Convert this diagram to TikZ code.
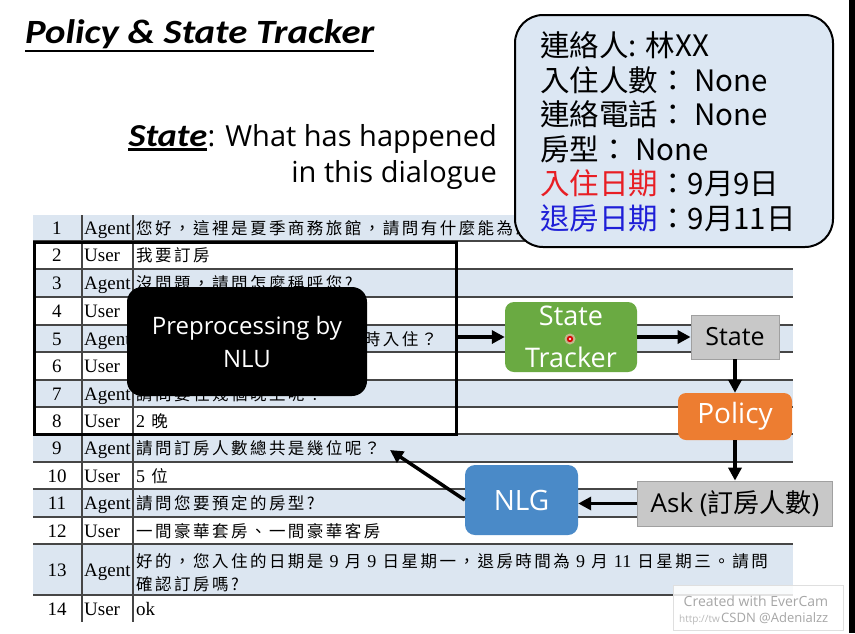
\documentclass[tikz,border=0pt]{standalone}
\usepackage{fontspec}
\setmainfont{Liberation Serif}
\newfontfamily\cjk{Noto Sans CJK TC}
\newfontfamily\cjktbl[LetterSpace=15]{Noto Sans CJK TC}
\newfontfamily\osans{Open Sans}
\newfontfamily\carl[FakeStretch=1.14]{Carlito}
\usetikzlibrary{arrows.meta}
\definecolor{rowshade}{RGB}{220,230,241}
\definecolor{rowline}{RGB}{70,70,70}
\definecolor{infofill}{RGB}{220,231,243}
\definecolor{trkgreen}{RGB}{106,170,66}
\definecolor{polorange}{RGB}{237,125,49}
\definecolor{nlgblue}{RGB}{74,138,200}
\definecolor{stgray}{RGB}{200,200,200}
\definecolor{stborder}{RGB}{160,160,160}
\definecolor{infored}{RGB}{232,30,36}
\definecolor{infoblue}{RGB}{30,30,215}
\newcommand\lat[1]{{\rmfamily\fontsize{18}{20}\selectfont #1}}
\newcommand\dlgrow[6]{%
  \fill[#4] (33,#2) rectangle (793,#3);
  \node[numcell] (n#1) at (57,{(#2+#3)/2+6.5}) {#1};
  \node[rolecell] (r#1) at (84,{(#2+#3)/2+6.5}) {#5};
  \node[txtcell] (t#1) at (136,{(#2+#3)/2+6.5}) {#6};
}
\tikzset{
  numcell/.style={anchor=base, inner sep=0, font=\rmfamily\fontsize{19}{22}\selectfont},
  rolecell/.style={anchor=base west, inner sep=0, font=\rmfamily\fontsize{19}{22}\selectfont},
  txtcell/.style={anchor=base west, inner sep=0, font=\cjktbl\fontsize{16.5}{20}\selectfont},
  tline/.style={rowline, line width=1.1pt},
  arr/.style={line width=3.5pt, -{Triangle[length=13pt,width=13pt]}},
  flowbox/.style={inner sep=0, align=center, font=\osans\fontsize{27}{42}\selectfont},
  infoline/.style={anchor=base west, inner sep=0, font=\cjk\fontsize{29.5}{34}\selectfont},
}
\begin{document}
\begin{tikzpicture}[x=1pt,y=-1pt]
\useasboundingbox (0,0) rectangle (855,633);
\fill[white] (0,0) rectangle (855,633);
\fill[black] (849,0) rectangle (855,633);

% title
\node[anchor=base west, inner sep=0, font=\carl\bfseries\itshape\fontsize{34}{40}\selectfont] (title) at (25,43) {Policy \& State Tracker};
\draw[line width=2pt] ([yshift=-8pt]title.base west) -- ([yshift=-8pt]title.base east);

\node[anchor=base east, inner sep=0, font=\osans\fontsize{29}{34}\selectfont] (whatl) at (497,146.5) {: What has happened};
\node[anchor=base east, inner sep=0, font=\carl\bfseries\itshape\fontsize{32}{38}\selectfont] (statew) at (whatl.base west) {State};
\draw[line width=2.3pt] ([yshift=-3pt]statew.base west) -- ([yshift=-3pt]statew.base east);
\node[anchor=base east, inner sep=0, font=\osans\fontsize{29}{34}\selectfont] (dlg) at (497,182) {in this dialogue};

% table
\dlgrow{1}{215}{241}{rowshade}{Agent}{您好，這裡是夏季商務旅館，請問有什麼能為您服務的嗎？}
\dlgrow{2}{241}{269}{white}{User}{我要訂房}
\dlgrow{3}{269}{297}{rowshade}{Agent}{沒問題，請問怎麼稱呼您?}
\dlgrow{4}{297}{325}{white}{User}{}
\dlgrow{5}{325}{352}{rowshade}{Agent}{好的，林先生請問您預計何時入住？}
\dlgrow{6}{352}{380}{white}{User}{}
\dlgrow{7}{380}{407}{rowshade}{Agent}{請問要住幾個晚上呢？}
\dlgrow{8}{407}{434}{white}{User}{\lat{2} 晚}
\dlgrow{9}{434}{462}{rowshade}{Agent}{請問訂房人數總共是幾位呢？}
\dlgrow{10}{462}{489}{white}{User}{\lat{5} 位}
\dlgrow{11}{489}{517}{rowshade}{Agent}{請問您要預定的房型?}
\dlgrow{12}{517}{544}{white}{User}{一間豪華套房、一間豪華客房}
\fill[rowshade] (33,544) rectangle (793,595);
\node[numcell] (n13) at (57,576) {13};
\node[rolecell] (r13) at (84,576) {Agent};
\node[txtcell] (t13a) at (136,567) {好的，您入住的日期是 \lat{9} 月 \lat{9} 日星期一，退房時間為 \lat{9} 月 \lat{11} 日星期三。請問};
\node[txtcell] (t13b) at (136,590) {確認訂房嗎?};
\node[numcell] (n14) at (57,615) {14};
\node[rolecell] (r14) at (84,615) {User};
\node[rolecell] (t14) at (136,615) {ok};
\foreach \yy in {241,269,297,325,352,380,407,434,462,489,517,544,595}
  \draw[tline] (33,\yy) -- (793,\yy);
\draw[tline] (82,215) -- (82,622);
\draw[tline] (133,215) -- (133,622);

% selection box and NLU
\node[draw=black, line width=2.8pt, minimum width=422pt, minimum height=192pt, inner sep=0, anchor=north west] (nlusel) at (33,241) {};
\node[flowbox, fill=black, text=white, rounded corners=15pt, minimum width=240pt, minimum height=109pt, font=\osans\fontsize{24}{33}\selectfont] (nlu) at (247,341.5) {Preprocessing by\\NLU};

% state info box
\draw[line width=2pt, fill=infofill, rounded corners=28pt] (515,15) rectangle (833,247);
\node[infoline] (l1) at (540,56) {連絡人: 林XX};
\node[infoline] (l2) at (540,91) {入住人數： None};
\node[infoline] (l3) at (540,125) {連絡電話： None};
\node[infoline] (l4) at (540,160) {房型： None};
\node[infoline] (l5) at (540,194) {\textcolor{infored}{入住日期}：9月9日};
\node[infoline] (l6) at (540,229) {\textcolor{infoblue}{退房日期}：9月11日};

% flow
\node[flowbox, fill=trkgreen, text=white, rounded corners=9pt, minimum width=132pt, minimum height=70pt] (trk) at (571,337) {State\\Tracker};
\node[flowbox, fill=stgray, draw=stborder, line width=0.8pt, minimum width=88pt, minimum height=44pt, font=\osans\fontsize{25}{30}\selectfont] (st) at (735,337) {State};
\node[flowbox, fill=polorange, text=white, rounded corners=8pt, minimum width=114pt, minimum height=47pt, font=\osans\fontsize{28}{32}\selectfont] (pol) at (735,416.5) {Policy};
\node[flowbox, fill=stgray, draw=stborder, line width=0.8pt, minimum width=195pt, minimum height=45pt, font=\osans\fontsize{26}{30}\selectfont] (ask) at (735,503.5) {Ask ({\cjk 訂房人數})};
\node[flowbox, fill=nlgblue, text=white, rounded corners=10pt, minimum width=113pt, minimum height=70pt, font=\osans\fontsize{28}{32}\selectfont] (nlg) at (521.5,500) {NLG};
\coordinate (q9) at (390,450);

\draw[arr] (nlusel.east |- trk.west) -- (trk.west);
\draw[arr] (trk.east) -- (st.west);
\draw[arr] (st.south) -- (pol.north);
\draw[arr] (pol.south) -- (ask.north);
\draw[arr] (ask.west) -- (ask.west -| nlg.east);
\draw[arr] (nlg.west) -- (q9);

% cursor dot
\fill[red!25, opacity=0.6] (570,339) circle (5.5pt);
\fill[red!85!black] (570,339) circle (3.2pt);
\fill[pink!60] (570,339) circle (1.3pt);

% watermark
\draw[gray!25, fill=white, fill opacity=0.85] (673,585) rectangle (843,630);
\node[inner sep=0, text=gray!70, font=\osans\fontsize{14}{16}\selectfont] (ever) at (756,601) {Created with EverCam};
\node[anchor=base west, inner sep=0, text=gray!55, font=\osans\fontsize{10}{12}\selectfont] (url) at (679,622) {http://tw};
\node[anchor=base west, inner sep=0, text=gray!70, font=\osans\fontsize{13}{15}\selectfont] (csdn) at (721,622) {CSDN @Adenialzz};
\end{tikzpicture}
\end{document}
